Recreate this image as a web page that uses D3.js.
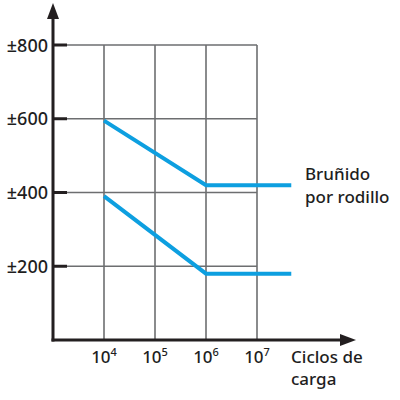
<!DOCTYPE html>
<html>
<head>
<meta charset="utf-8">
<script src="https://cdn.jsdelivr.net/npm/d3@7"></script>
<style>
  body { margin: 0; background: #fff; }
  text { font-family: "Noto Sans", sans-serif; font-weight: 500; fill: #1e1e1e; }
</style>
</head>
<body>
<div class="svgContainer"></div>
<script>
// Data
var Y_TICKS = [200, 400, 600, 800];
var Y_LABELS = ["±200", "±400", "±600", "±800"];
var X_EXPONENTS = [4, 5, 6, 7];
var UPPER_CYCLES = [1e4, 1e6, 4.7e7];
var UPPER_STRESS = [595, 420, 420];
var LOWER_CYCLES = [1e4, 1e6, 4.7e7];
var LOWER_STRESS = [390, 180, 180];
var SERIES_LABEL = ["Bruñido", "por rodillo"];
var X_TITLE = ["Ciclos de", "carga"];

var width = 400, height = 400;
var BLUE = "#0d9fe0";

var svg = d3.select(".svgContainer").append("svg")
    .attr("width", width)
    .attr("height", height);

// scales
var x = d3.scaleLog()
    .domain([1e3, 1e7])
    .range([53, 257]);

var y = d3.scaleLinear()
    .domain([0, 800])
    .range([340, 45]);

// grid
var grid = svg.append("g");
grid.selectAll(".hgrid")
    .data(Y_TICKS)
    .enter().append("line")
    .attr("x1", x(1e3)).attr("x2", x(1e7))
    .attr("y1", function(d) { return y(d); })
    .attr("y2", function(d) { return y(d); })
    .attr("stroke", "#6d6e70")
    .attr("stroke-width", 1.6);

grid.selectAll(".vgrid")
    .data(X_EXPONENTS)
    .enter().append("line")
    .attr("x1", function(d) { return x(Math.pow(10, d)); })
    .attr("x2", function(d) { return x(Math.pow(10, d)); })
    .attr("y1", y(800)).attr("y2", y(0))
    .attr("stroke", "#6d6e70")
    .attr("stroke-width", 1.6);

// y tick marks
svg.selectAll(".ytick")
    .data(Y_TICKS)
    .enter().append("line")
    .attr("x1", x(1e3)).attr("x2", x(1e3) + 14)
    .attr("y1", function(d) { return y(d); })
    .attr("y2", function(d) { return y(d); })
    .attr("stroke", "#231f20")
    .attr("stroke-width", 3);

// y labels
svg.selectAll(".ylab")
    .data(Y_TICKS)
    .enter().append("text")
    .attr("x", 48)
    .attr("y", function(d) { return y(d) + 6.5; })
    .attr("text-anchor", "end")
    .attr("font-size", 18)
    .text(function(d, i) { return Y_LABELS[i]; });

// x labels with superscripts
var xl = svg.selectAll(".xlab")
    .data(X_EXPONENTS)
    .enter().append("text")
    .attr("x", function(d) { return x(Math.pow(10, d)); })
    .attr("y", 363)
    .attr("text-anchor", "middle")
    .attr("font-size", 17);
xl.append("tspan").text("10");
xl.append("tspan")
    .attr("font-size", 11)
    .attr("dy", -7)
    .text(function(d) { return d; });

// axes with arrows
svg.append("line")
    .attr("x1", x(1e3)).attr("x2", x(1e3))
    .attr("y1", y(0) + 1.5).attr("y2", 14)
    .attr("stroke", "#231f20")
    .attr("stroke-width", 3);
svg.append("path")
    .attr("d", d3.line()([[x(1e3), 3], [x(1e3) - 6, 19], [x(1e3) + 6, 19]]) + "Z")
    .attr("fill", "#231f20");

svg.append("line")
    .attr("x1", x(1e3) - 1.5).attr("x2", 343)
    .attr("y1", y(0)).attr("y2", y(0))
    .attr("stroke", "#231f20")
    .attr("stroke-width", 3);
svg.append("path")
    .attr("d", d3.line()([[356, y(0)], [340, y(0) - 6], [340, y(0) + 6]]) + "Z")
    .attr("fill", "#231f20");

// series
var line = d3.line()
    .x(function(d) { return x(d[0]); })
    .y(function(d) { return y(d[1]); });

[[UPPER_CYCLES, UPPER_STRESS], [LOWER_CYCLES, LOWER_STRESS]].forEach(function(s) {
    svg.append("path")
        .datum(d3.zip(s[0], s[1]))
        .attr("d", line)
        .attr("fill", "none")
        .attr("stroke", BLUE)
        .attr("stroke-width", 4);
});

// series label
svg.selectAll(".slab")
    .data(SERIES_LABEL)
    .enter().append("text")
    .attr("x", 305)
    .attr("y", function(d, i) { return 180 + i * 23; })
    .attr("font-size", 17)
    .text(function(d) { return d; });

// x axis title
svg.selectAll(".xtitle")
    .data(X_TITLE)
    .enter().append("text")
    .attr("x", 291)
    .attr("y", function(d, i) { return 363 + i * 22; })
    .attr("font-size", 17)
    .text(function(d) { return d; });
</script>
</body>
</html>
